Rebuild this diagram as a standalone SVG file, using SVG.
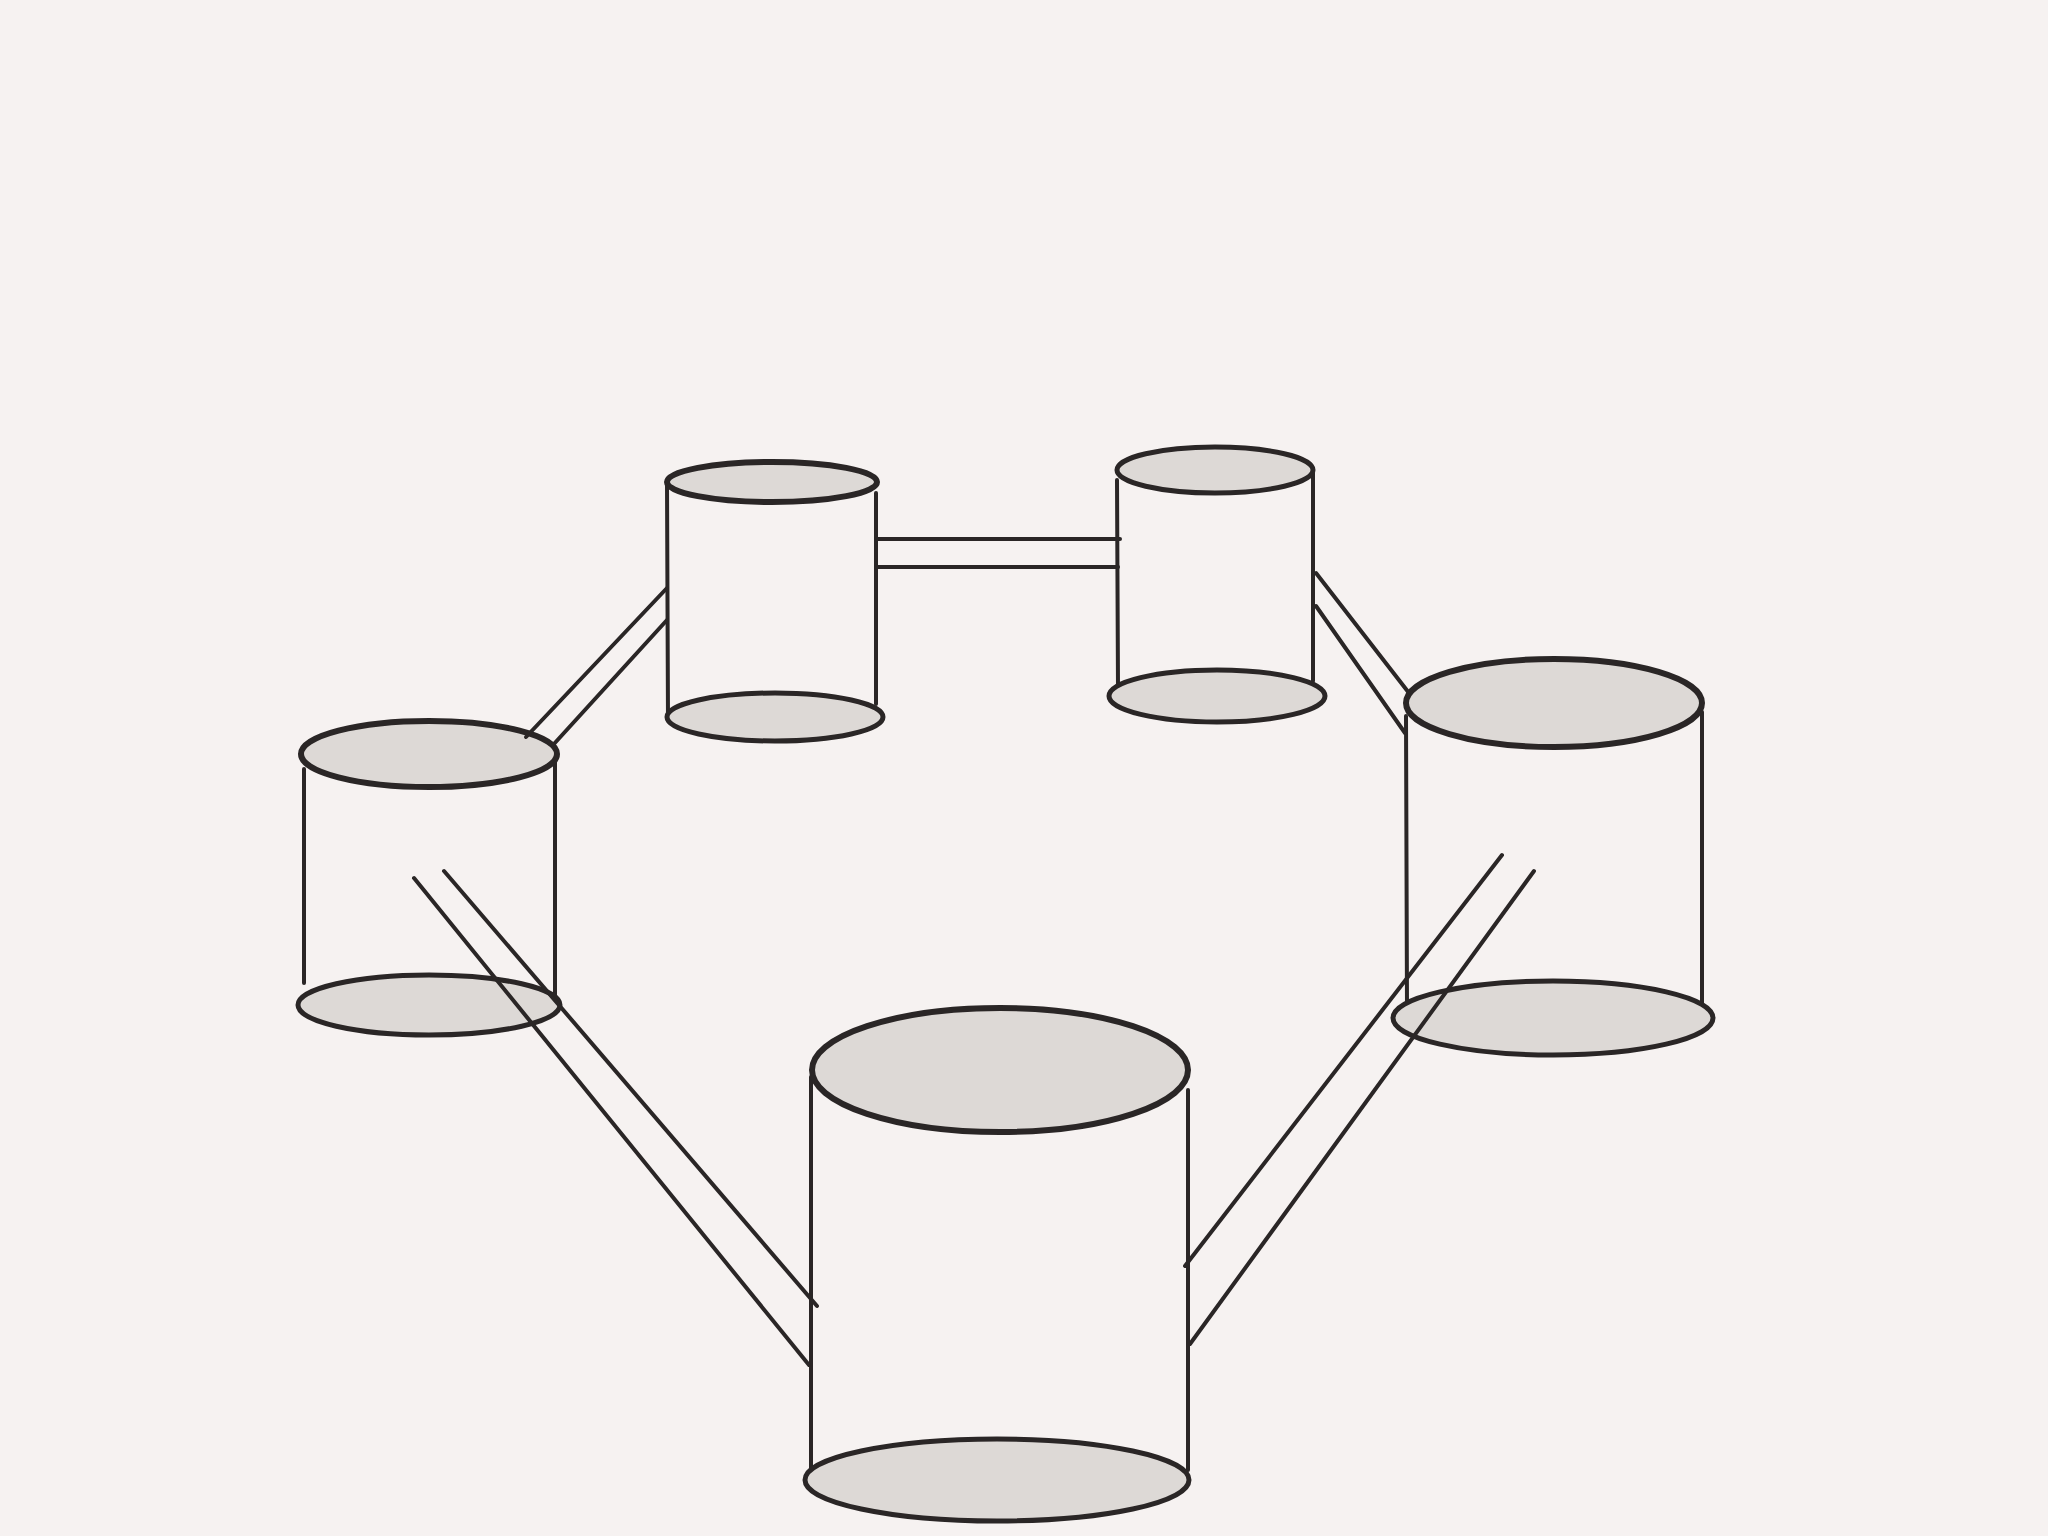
<svg xmlns="http://www.w3.org/2000/svg" width="2048" height="1536" viewBox="0 0 2048 1536">
<style>
.cap{fill:#ddd9d6;stroke:#2a2626;stroke-width:5}
.top{stroke-width:6}
.side{stroke:#2a2626;stroke-width:4;fill:none;stroke-linecap:round}
.conn line{stroke:#2a2626;stroke-width:4;stroke-linecap:round}
</style>
<rect x="0" y="0" width="2048" height="1536" fill="#f6f2f1"/>
<g id="cyl-top-left">
<line class="side" x1="667" y1="484" x2="668" y2="720"/>
<line class="side" x1="876" y1="493" x2="876" y2="704"/>
<ellipse class="cap" cx="775" cy="717" rx="108" ry="24"/>
<ellipse class="cap top" cx="772" cy="482" rx="105" ry="20"/>
</g>
<g id="cyl-top-right">
<line class="side" x1="1117" y1="480" x2="1118" y2="687"/>
<line class="side" x1="1313" y1="471" x2="1313" y2="681"/>
<ellipse class="cap" cx="1217" cy="696" rx="108" ry="26"/>
<ellipse class="cap" cx="1215" cy="470" rx="98" ry="23"/>
</g>
<g id="cyl-left">
<line class="side" x1="304" y1="769" x2="304" y2="983"/>
<line class="side" x1="555" y1="760" x2="555" y2="995"/>
<ellipse class="cap" cx="429" cy="1005" rx="131" ry="30"/>
<ellipse class="cap top" cx="429" cy="754" rx="128" ry="33"/>
</g>
<g id="cyl-right">
<line class="side" x1="1406" y1="716" x2="1407" y2="1009"/>
<line class="side" x1="1702" y1="712" x2="1702" y2="1021"/>
<ellipse class="cap" cx="1553" cy="1018" rx="160" ry="37"/>
<ellipse class="cap top" cx="1554" cy="703" rx="148" ry="44"/>
</g>
<g id="cyl-bottom">
<line class="side" x1="811" y1="1077" x2="811" y2="1475"/>
<line class="side" x1="1188" y1="1090" x2="1188" y2="1470"/>
<ellipse class="cap" cx="997" cy="1480" rx="192" ry="41"/>
<ellipse class="cap top" cx="1000" cy="1070" rx="188" ry="62"/>
</g>
<g id="connectors" class="conn">
<line x1="876" y1="539" x2="1120" y2="539"/>
<line x1="876" y1="567" x2="1118" y2="567"/>
<line x1="526" y1="737" x2="667" y2="588"/>
<line x1="553" y1="745" x2="667" y2="620"/>
<line x1="1316" y1="573" x2="1409" y2="693"/>
<line x1="1316" y1="606" x2="1405" y2="733"/>
<line x1="414" y1="878" x2="809" y2="1365"/>
<line x1="444" y1="871" x2="817" y2="1306"/>
<line x1="1502" y1="855" x2="1185" y2="1266"/>
<line x1="1534" y1="871" x2="1190" y2="1344"/>
</g>
</svg>
